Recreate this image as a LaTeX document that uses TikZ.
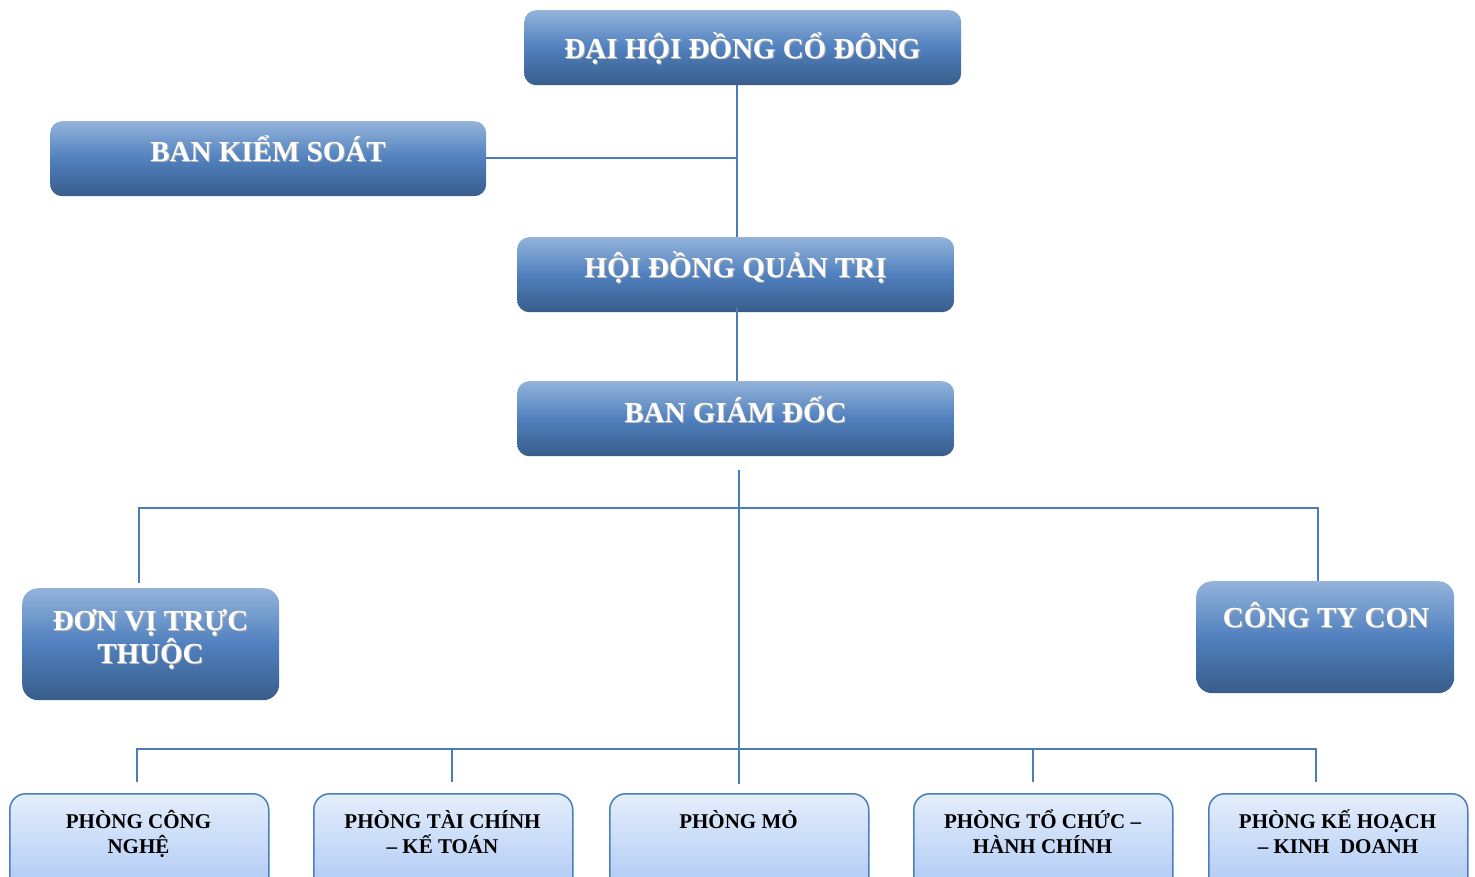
\documentclass[tikz,border=0pt]{standalone}
\usepackage{fontspec}
\setmainfont{Liberation Serif}
\definecolor{lnc}{HTML}{4A7EBB}
\definecolor{dtop}{HTML}{93B3DA}
\definecolor{dmid}{HTML}{5080BE}
\definecolor{dbot}{HTML}{385D8A}
\definecolor{ltop}{HTML}{E4EEFC}
\definecolor{lbot}{HTML}{A7C4F3}
\begin{document}
\begin{tikzpicture}[x=1pt,y=-1pt,
  darkbox/.style={rectangle, rounded corners=12pt, anchor=north west, inner sep=0pt,
    top color=dtop, bottom color=dbot, middle color=dmid},
  lightbox/.style={rectangle, rounded corners=16pt, anchor=north west, inner sep=0pt,
    top color=ltop, bottom color=lbot, draw=lnc, line width=1.5pt,
    minimum width=259pt, minimum height=110pt},
  dtxt/.style={anchor=base, text=white, inner sep=0pt, align=center,
    font=\fontsize{29}{33.5}\selectfont\bfseries},
  dshadow/.style={dtxt, text=black!28},
  ltxt/.style={anchor=base, text=black, inner sep=0pt, align=center,
    font=\fontsize{21}{25}\selectfont\bfseries},
  conn/.style={draw=lnc, line width=2pt}]
\useasboundingbox (0,0) rectangle (1475,877);
\clip (0,0) rectangle (1475,877);

% boxes
\node[darkbox, minimum width=437pt, minimum height=75pt] (dhd) at (524,10) {};
\node[darkbox, minimum width=436pt, minimum height=75pt] (bks) at (50,121) {};
\node[darkbox, minimum width=437pt, minimum height=75pt] (hdqt) at (517,237) {};
\node[darkbox, minimum width=437pt, minimum height=75pt] (bgd) at (517,381) {};
\node[darkbox, minimum width=257pt, minimum height=112pt, rounded corners=16pt] (dv) at (22,588) {};
\node[darkbox, minimum width=258pt, minimum height=112pt, rounded corners=16pt] (ct) at (1196,581) {};
\node[lightbox] (p1) at (9,793) {};
\node[lightbox] (p2) at (313,793) {};
\node[lightbox] (p3) at (609,793) {};
\node[lightbox] (p4) at (913,793) {};
\node[lightbox] (p5) at (1208,793) {};

% texts
\node[dshadow] (dhdts) at (743.5,59.5) {ĐẠI HỘI ĐỒNG CỔ ĐÔNG};
\node[dtxt] (dhdt) at (742.5,58.5) {ĐẠI HỘI ĐỒNG CỔ ĐÔNG};
\node[dshadow] (bksts) at (269,163) {BAN KIỂM SOÁT};
\node[dtxt] (bkst) at (268,162) {BAN KIỂM SOÁT};
\node[dshadow] (hdqtts) at (736.5,279) {HỘI ĐỒNG QUẢN TRỊ};
\node[dtxt] (hdqtt) at (735.5,278) {HỘI ĐỒNG QUẢN TRỊ};
\node[dshadow] (bgdts) at (736.5,423) {BAN GIÁM ĐỐC};
\node[dtxt] (bgdt) at (735.5,422) {BAN GIÁM ĐỐC};
\node[dshadow, anchor=north] (dvts) at (151.5,610) {ĐƠN VỊ TRỰC\\THUỘC};
\node[dtxt, anchor=north] (dvt) at (150.5,609) {ĐƠN VỊ TRỰC\\THUỘC};
\node[dshadow] (ctts) at (1327,628) {CÔNG TY CON};
\node[dtxt] (ctt) at (1326,627) {CÔNG TY CON};

\node[ltxt] (p1t) at (138.5,828) {PHÒNG CÔNG};
\node[ltxt] (p1u) at (138.5,853) {NGHỆ};
\node[ltxt] (p2t) at (442.5,828) {PHÒNG TÀI CHÍNH};
\node[ltxt] (p2u) at (442.5,853) {– KẾ TOÁN};
\node[ltxt] (p3t) at (738.5,828) {PHÒNG MỎ};
\node[ltxt] (p4t) at (1042.5,828) {PHÒNG TỔ CHỨC –};
\node[ltxt] (p4u) at (1042.5,853) {HÀNH CHÍNH};
\node[ltxt] (p5t) at (1337.5,828) {PHÒNG KẾ HOẠCH};
\node[ltxt] (p5u) at (1338,853) {– KINH~ DOANH};

% connector coordinates
\coordinate (j1) at (737,158);
\coordinate (j2) at (739,508);
\coordinate (j3) at (739,749);
\coordinate (bgdout) at (739,470);
\coordinate (dvin) at (139,583);
\coordinate (ctin) at (1318,581);
\coordinate (p1in) at (137,782);
\coordinate (p2in) at (452,782);
\coordinate (p3in) at (739,784);
\coordinate (p4in) at (1033,782);
\coordinate (p5in) at (1316,782);

\draw[conn] (dhd.south -| j1) -- (hdqt.north -| j1);
\draw[conn] (bks.east |- j1) -- (j1);
\draw[conn] ([yshift=4pt]hdqt.south -| j1) -- (bgd.north -| j1);
\draw[conn] (bgdout) -- (p3in);
\draw[conn] (dvin) |- (j2) -| (ctin);
\draw[conn] (p1in) |- (j3) -| (p5in);
\draw[conn] (p2in) -- (p2in |- j3);
\draw[conn] (p4in) -- (p4in |- j3);
\end{tikzpicture}
\end{document}
